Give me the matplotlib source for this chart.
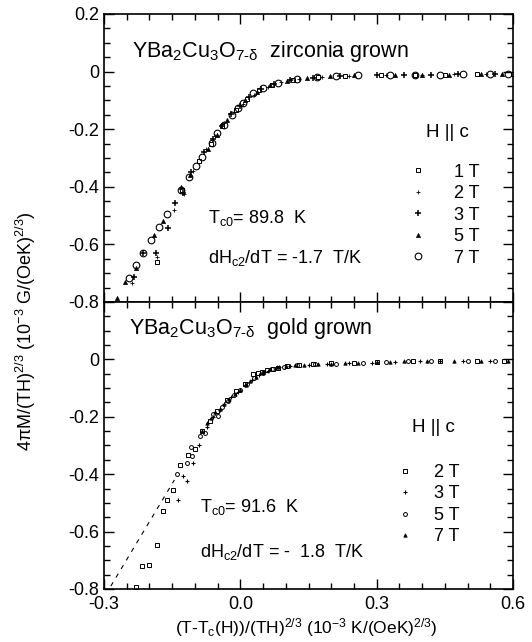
import numpy as np
import matplotlib
matplotlib.use('Agg')
from matplotlib import pyplot as plt
from matplotlib.ticker import MultipleLocator, FuncFormatter

plt.rcParams['font.family'] = ['Liberation Sans', 'DejaVu Sans']
plt.rcParams['mathtext.fontset'] = 'custom'
plt.rcParams['mathtext.rm'] = 'Liberation Sans'
plt.rcParams['mathtext.it'] = 'Liberation Sans'
plt.rcParams['mathtext.bf'] = 'Liberation Sans:bold'
plt.rcParams['axes.unicode_minus'] = False

# zirconia grown crystal, scaled magnetization vs scaled temperature
z1_x = [-0.184, -0.128, -0.09, -0.065, -0.04, -0.01, 0.015, 0.04, 0.07, 0.115, 0.17, 0.23, 0.31, 0.385, 0.45, 0.52, 0.60]
z1_y = [-0.66, -0.41, -0.31, -0.25, -0.19, -0.135, -0.095, -0.065, -0.045, -0.028, -0.019, -0.015, -0.013, -0.012, -0.011, -0.010, -0.010]

z2_x = [-0.238, -0.184, -0.146, -0.125, -0.105, -0.075, -0.055, -0.035, -0.015, 0.005, 0.03, 0.06, 0.09, 0.13, 0.18, 0.24, 0.32, 0.40, 0.47, 0.54]
z2_y = [-0.733, -0.645, -0.48, -0.425, -0.345, -0.27, -0.225, -0.18, -0.142, -0.112, -0.08, -0.052, -0.037, -0.026, -0.018, -0.014, -0.012, -0.011, -0.010, -0.010]

z3_x = [-0.235, -0.214, -0.186, -0.159, -0.144, -0.127, -0.108, -0.08, -0.06, -0.04, -0.02, 0.0, 0.02, 0.045, 0.075, 0.11, 0.16, 0.22, 0.30, 0.36, 0.42, 0.48, 0.56]
z3_y = [-0.712, -0.629, -0.631, -0.542, -0.455, -0.42, -0.35, -0.28, -0.235, -0.19, -0.148, -0.12, -0.088, -0.062, -0.044, -0.03, -0.021, -0.015, -0.013, -0.012, -0.011, -0.010, -0.010]

z5_x = [-0.271, -0.254, -0.230, -0.189, -0.170, -0.131, -0.110, -0.071, -0.052, -0.030, 0.010, 0.036, 0.065, 0.102, 0.146, 0.197, 0.25, 0.34, 0.40, 0.46, 0.53, 0.575]
z5_y = [-0.785, -0.729, -0.683, -0.567, -0.519, -0.40, -0.36, -0.27, -0.22, -0.168, -0.10, -0.07, -0.047, -0.032, -0.023, -0.015, -0.013, -0.012, -0.011, -0.011, -0.010, -0.010]

z7_x = [-0.246, -0.230, -0.214, -0.197, -0.180, -0.162, -0.131, -0.114, -0.098, -0.085, -0.063, -0.052, -0.037, -0.019, -0.005, 0.006, 0.028, 0.05, 0.083, 0.124, 0.168, 0.21, 0.26, 0.33, 0.385, 0.44, 0.49, 0.55, 0.59]
z7_y = [-0.718, -0.672, -0.629, -0.585, -0.538, -0.495, -0.411, -0.367, -0.328, -0.295, -0.249, -0.214, -0.185, -0.151, -0.128, -0.110, -0.075, -0.058, -0.041, -0.027, -0.020, -0.015, -0.013, -0.012, -0.011, -0.011, -0.010, -0.010, -0.010]

# gold grown crystal
g2_x = [-0.23, -0.217, -0.202, -0.183, -0.171, -0.162, -0.149, -0.133, -0.116, -0.100, -0.085, -0.067, -0.052, -0.03, -0.01, 0.01, 0.028, 0.039, 0.047, 0.058, 0.072, 0.083, 0.102, 0.13, 0.16, 0.2, 0.25, 0.3, 0.38, 0.44, 0.52, 0.58]
g2_y = [-0.793, -0.72, -0.717, -0.646, -0.53, -0.489, -0.454, -0.367, -0.332, -0.311, -0.25, -0.215, -0.18, -0.14, -0.11, -0.085, -0.052, -0.047, -0.044, -0.037, -0.033, -0.029, -0.023, -0.019, -0.016, -0.014, -0.012, -0.009, -0.007, -0.006, -0.005, -0.005]

g3_x = [-0.138, -0.126, -0.117, -0.104, -0.09, -0.074, -0.06, -0.045, -0.035, -0.02, -0.005, 0.01, 0.025, 0.04, 0.06, 0.085, 0.11, 0.15, 0.19, 0.24, 0.29, 0.34, 0.395, 0.44, 0.49, 0.55]
g3_y = [-0.489, -0.405, -0.425, -0.361, -0.3, -0.235, -0.2, -0.175, -0.155, -0.13, -0.112, -0.09, -0.072, -0.055, -0.04, -0.028, -0.022, -0.018, -0.016, -0.014, -0.011, -0.009, -0.007, -0.006, -0.005, -0.005]

g5_x = [-0.140, -0.117, -0.107, -0.109, -0.089, -0.078, -0.06, -0.049, -0.04, -0.028, -0.015, 0.0, 0.015, 0.03, 0.05, 0.07, 0.095, 0.125, 0.165, 0.21, 0.27, 0.32, 0.37, 0.42, 0.5, 0.56]
g5_y = [-0.40, -0.361, -0.335, -0.305, -0.268, -0.256, -0.192, -0.198, -0.165, -0.145, -0.125, -0.105, -0.085, -0.065, -0.046, -0.033, -0.025, -0.02, -0.017, -0.015, -0.012, -0.009, -0.007, -0.006, -0.005, -0.005]

g7_x = [-0.085, -0.074, -0.065, -0.055, -0.045, -0.035, -0.025, -0.012, 0.0, 0.012, 0.022, 0.035, 0.05, 0.065, 0.08, 0.1, 0.12, 0.14, 0.17, 0.2, 0.23, 0.26, 0.3, 0.33, 0.36, 0.41, 0.47, 0.53, 0.59]
g7_y = [-0.25, -0.221, -0.205, -0.185, -0.172, -0.155, -0.138, -0.122, -0.105, -0.09, -0.077, -0.06, -0.045, -0.035, -0.028, -0.023, -0.02, -0.018, -0.016, -0.015, -0.014, -0.012, -0.009, -0.008, -0.007, -0.006, -0.005, -0.005, -0.005]

# linear extrapolation below the scaling region
ext_x = [-0.285, -0.145]
ext_y = [-0.79, -0.42]


def style_axis(ax, show_x):
    ax.set_xlim(-0.3, 0.6)
    ax.set_ylim(-0.8, 0.2)
    ax.xaxis.set_major_locator(MultipleLocator(0.3))
    ax.xaxis.set_minor_locator(MultipleLocator(0.05))
    ax.yaxis.set_major_locator(MultipleLocator(0.2))
    ax.yaxis.set_minor_locator(MultipleLocator(0.05))
    ax.tick_params(which='both', direction='in', top=True, right=True, width=1.0, labelsize=13)
    ax.tick_params(which='major', length=7)
    ax.tick_params(which='minor', length=4)
    for s in ax.spines.values():
        s.set_linewidth(1.2)
    if show_x:
        ax.xaxis.set_major_formatter(FuncFormatter(lambda v, p: f'{v:.1f}'))
        ax.tick_params(axis='x', pad=5)
    else:
        ax.tick_params(labelbottom=False)


fig = plt.figure(figsize=(5.32, 6.42), dpi=100)
ax1 = fig.add_axes([0.1955, 0.5296, 0.7688, 0.4486])
ax2 = fig.add_axes([0.1955, 0.0826, 0.7688, 0.4470])

kw = dict(ls='none', color='black')
ax1.plot(z1_x, z1_y, marker='s', ms=3, mfc='none', mew=0.7, label='1 T', **kw)
ax1.plot(z2_x, z2_y, marker='+', ms=3, mew=0.6, label='2 T', **kw)
ax1.plot(z3_x, z3_y, marker='+', ms=4, mew=1.1, label='3 T', **kw)
ax1.plot(z5_x, z5_y, marker='^', ms=3, mew=0.5, label='5 T', **kw)
ax1.plot(z7_x, z7_y, marker='o', ms=4.8, mfc='none', mew=0.8, label='7 T', **kw)

ax2.plot(ext_x, ext_y, color='black', lw=0.8, ls=(0, (4, 5)))
ax2.plot(g2_x, g2_y, marker='s', ms=3.2, mfc='none', mew=0.7, label='2 T', **kw)
ax2.plot(g3_x, g3_y, marker='+', ms=3.5, mew=0.8, label='3 T', **kw)
ax2.plot(g5_x, g5_y, marker='o', ms=2.8, mfc='none', mew=0.7, label='5 T', **kw)
ax2.plot(g7_x, g7_y, marker='^', ms=2.5, mew=0.5, label='7 T', **kw)

style_axis(ax1, False)
style_axis(ax2, True)
ax1.yaxis.set_major_formatter(FuncFormatter(lambda v, p: '0' if abs(v) < 1e-9 else f'{v:.1f}'))
ax2.yaxis.set_major_formatter(FuncFormatter(lambda v, p: '' if v > 0.1 else ('0' if abs(v) < 1e-9 else f'{v:.1f}')))

ax1.text(-0.238, 0.052, r'YBa$_2$Cu$_3$O$_{7\text{-}\delta}$  zirconia grown', fontsize=15.5)
ax1.text(-0.071, -0.526, r'T$_{c0}$= 89.8  K', fontsize=13)
ax1.text(-0.071, -0.665, r'dH$_{c2}$/dT = -1.7  T/K', fontsize=13)

ax2.text(-0.245, 0.087, r'YBa$_2$Cu$_3$O$_{7\text{-}\delta}$  gold grown', fontsize=15.5)
ax2.text(-0.089, -0.531, r'T$_{c0}$= 91.6  K', fontsize=13)
ax2.text(-0.089, -0.688, r'dH$_{c2}$/dT = -  1.8  T/K', fontsize=13)

# field legends: heading text plus marker list
ax1.text(0.839, 0.59, 'H || c', transform=ax1.transAxes, ha='center', va='center', fontsize=13.5)
ax1.legend(loc='upper left', bbox_to_anchor=(0.75, 0.48), frameon=False, borderpad=0,
           borderaxespad=0, fontsize=13, handlelength=0.8, handletextpad=1.6, labelspacing=0.25)

ax2.text(0.805, 0.561, 'H || c', transform=ax2.transAxes, ha='center', va='center', fontsize=13.5)
ax2.legend(loc='upper left', bbox_to_anchor=(0.719, 0.436), frameon=False, borderpad=0,
           borderaxespad=0, fontsize=13, handlelength=0.8, handletextpad=1.2, labelspacing=0.25)

fig.text(0.048, 0.485, r'4$\pi$M/(TH)$^{2/3}$ (10$^{-3}$ G/(OeK)$^{2/3}$)',
         rotation=90, ha='center', va='center', fontsize=13)
fig.text(0.575, 0.022, r'(T-T$_c$(H))/(TH)$^{2/3}$ (10$^{-3}$ K/(OeK)$^{2/3}$)',
         ha='center', va='center', fontsize=12.5)

fig.savefig('out.png', dpi=100)
